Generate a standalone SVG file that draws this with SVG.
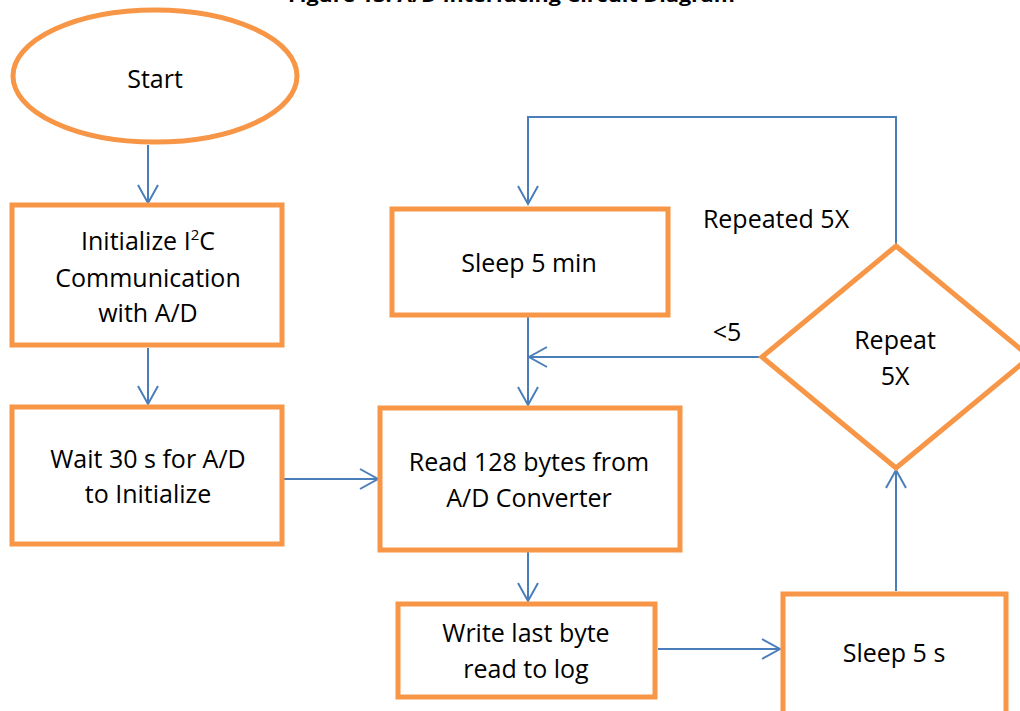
<svg xmlns="http://www.w3.org/2000/svg" width="1020" height="711" viewBox="0 0 1020 711">
  <style>
    .shape { fill: #ffffff; stroke: #F79646; stroke-width: 5; }
    .flow { fill: none; stroke: #4A7EBB; stroke-width: 2; }
    .label { font-family: "Open Sans", "Liberation Sans", sans-serif; font-size: 25px; fill: #000000; text-anchor: middle; }
    .title { font-family: "Open Sans", "Liberation Sans", sans-serif; font-size: 17px; font-weight: bold; fill: #000000; }
  </style>
  <defs>
    <marker id="chevron" markerUnits="userSpaceOnUse" markerWidth="24" markerHeight="24" viewBox="-20 -12 24 24" refX="0" refY="0" orient="auto">
      <path d="M -18 -10 L 0 0 L -18 10" fill="none" stroke="#4A7EBB" stroke-width="2"/>
    </marker>
  </defs>

  <rect width="1020" height="711" fill="#ffffff"/>

  <!-- caption, clipped by the top edge -->
  <text class="title" x="288" y="2" textLength="447" lengthAdjust="spacingAndGlyphs">Figure 13. A/D Interfacing Circuit Diagram</text>

  <!-- connectors -->
  <g id="connectors">
    <path class="flow" d="M 148 145 L 148 203" marker-end="url(#chevron)"/>
    <path class="flow" d="M 148 348 L 148 404" marker-end="url(#chevron)"/>
    <path class="flow" d="M 283 479 L 378 479" marker-end="url(#chevron)"/>
    <path class="flow" d="M 528 317 L 528 405" marker-end="url(#chevron)"/>
    <path class="flow" d="M 762 357 L 529 357" marker-end="url(#chevron)"/>
    <path class="flow" d="M 528 551 L 528 601" marker-end="url(#chevron)"/>
    <path class="flow" d="M 658 649 L 780 649" marker-end="url(#chevron)"/>
    <path class="flow" d="M 896 591 L 896 470" marker-end="url(#chevron)"/>
    <path class="flow" d="M 896 246 L 896 117 L 528 117 L 528 204" marker-end="url(#chevron)"/>
  </g>

  <g id="start">
    <ellipse class="shape" cx="155" cy="76" rx="142" ry="66"/>
    <text class="label" x="155" y="88">Start</text>
  </g>

  <g id="init-i2c">
    <rect class="shape" x="12" y="205" width="270" height="140"/>
    <text class="label" x="148" y="250">Initialize I<tspan font-size="15" dy="-10">2</tspan><tspan dy="10">C</tspan></text>
    <text class="label" x="148" y="287">Communication</text>
    <text class="label" x="148" y="322">with A/D</text>
  </g>

  <g id="wait-30s">
    <rect class="shape" x="12" y="407" width="270" height="137"/>
    <text class="label" x="148" y="468">Wait 30 s for A/D</text>
    <text class="label" x="148" y="503">to Initialize</text>
  </g>

  <g id="sleep-5min">
    <rect class="shape" x="392" y="209" width="276" height="106"/>
    <text class="label" x="529" y="272">Sleep 5 min</text>
  </g>

  <g id="read-bytes">
    <rect class="shape" x="380" y="408" width="300" height="142"/>
    <text class="label" x="529" y="471">Read 128 bytes from</text>
    <text class="label" x="529" y="507">A/D Converter</text>
  </g>

  <g id="write-log">
    <rect class="shape" x="398" y="604" width="257" height="93"/>
    <text class="label" x="526" y="642">Write last byte</text>
    <text class="label" x="526" y="678">read to log</text>
  </g>

  <g id="sleep-5s">
    <rect class="shape" x="783" y="594" width="223" height="130"/>
    <text class="label" x="894" y="662">Sleep 5 s</text>
  </g>

  <g id="repeat-5x">
    <polygon class="shape" points="896,246 1030,357 896,468 762,357"/>
    <text class="label" x="895" y="349">Repeat</text>
    <text class="label" x="895" y="385">5X</text>
  </g>

  <g id="edge-labels">
    <text class="label" x="776" y="228">Repeated 5X</text>
    <text class="label" x="727" y="341">&lt;5</text>
  </g>
</svg>
